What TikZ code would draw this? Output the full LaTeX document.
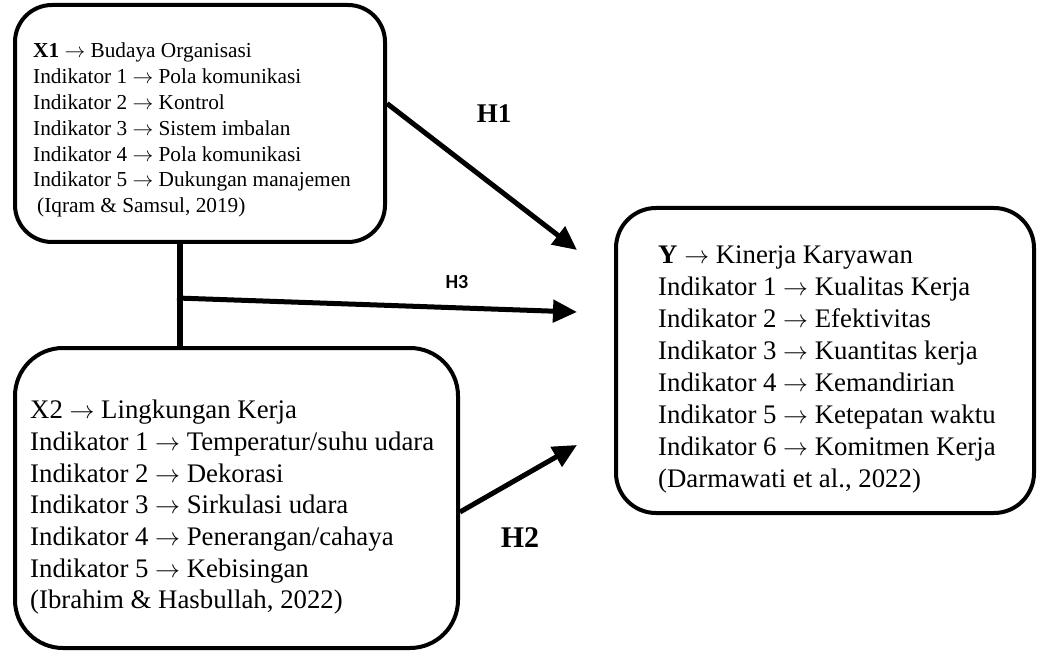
\documentclass[tikz,border=0pt]{standalone}
\usepackage{fontspec}
\setmainfont{Liberation Serif}
\newfontfamily\labsans{Carlito}
\usetikzlibrary{arrows.meta}
\newcommand{\ra}{$\rightarrow$}
\begin{document}
\begin{tikzpicture}[x=1pt,y=-1pt,
  vbox/.style={draw=black,line width=4pt,rectangle,inner sep=0pt},
  txt/.style={anchor=north west,align=left,inner sep=0pt},
  arr/.style={line width=5pt,-{Triangle[length=24pt,width=22pt]}},
  conn/.style={line width=6pt},
  hlab/.style={inner sep=0pt,font=\bfseries}]
\useasboundingbox (0,0) rectangle (1037,655);
\fill[white] (0,0) rectangle (1037,655);
% boxes
\node[vbox,minimum width=370pt,minimum height=237pt,rounded corners=37pt] (x1) at (200,123.5) {};
\node[vbox,minimum width=443pt,minimum height=300pt,rounded corners=48pt] (x2) at (236.5,498) {};
\node[vbox,minimum width=418pt,minimum height=305pt,rounded corners=40pt] (y) at (825,360.5) {};
% texts
\node[txt,font=\fontsize{21.3}{25.8}\selectfont] (x1t) at (33,43) {%
\textbf{X1} \ra{} Budaya Organisasi\\
Indikator 1 \ra{} Pola komunikasi\\
Indikator 2 \ra{} Kontrol\\
Indikator 3 \ra{} Sistem imbalan\\
Indikator 4 \ra{} Pola komunikasi\\
Indikator 5 \ra{} Dukungan manajemen\\
\hspace*{4pt}(Iqram \& Samsul, 2019)};
\node[txt,font=\fontsize{26.8}{31.7}\selectfont] (x2t) at (30,400) {%
X2 \ra{} Lingkungan Kerja\\
Indikator 1 \ra{} Temperatur/suhu udara\\
Indikator 2 \ra{} Dekorasi\\
Indikator 3 \ra{} Sirkulasi udara\\
Indikator 4 \ra{} Penerangan/cahaya\\
Indikator 5 \ra{} Kebisingan\\
(Ibrahim \& Hasbullah, 2022)};
\node[txt,font=\fontsize{26.8}{31.9}\selectfont] (yt) at (658,246) {%
\textbf{Y} \ra{} Kinerja Karyawan\\
Indikator 1 \ra{} Kualitas Kerja\\
Indikator 2 \ra{} Efektivitas\\
Indikator 3 \ra{} Kuantitas kerja\\
Indikator 4 \ra{} Kemandirian\\
Indikator 5 \ra{} Ketepatan waktu\\
Indikator 6 \ra{} Komitmen Kerja\\
(Darmawati et al., 2022)};
% connector points
\coordinate (h1tip) at (577,250);
\coordinate (h3tip) at (577,312);
\coordinate (h2tip) at (577,445);
\coordinate (j) at (180,298);
% connectors
\draw[arr] ([yshift=20pt]x1.east) -- (h1tip);
\draw[conn] ([xshift=-20pt]x1.south) -- ([xshift=-20pt]x1.south |- x2.north);
\draw[arr] ([xshift=-3pt]j) -- (h3tip);
\draw[arr] ([yshift=-14pt]x2.east) -- (h2tip);
% labels
\node[hlab,font=\bfseries\fontsize{27}{30}\selectfont] (h1) at (494,114) {H1};
\node[hlab,font=\labsans\bfseries\fontsize{20}{22}\selectfont] (h3) at (457,282) {H3};
\node[hlab,font=\bfseries\fontsize{30}{33}\selectfont] (h2) at (520,538) {H2};
\end{tikzpicture}
\end{document}
